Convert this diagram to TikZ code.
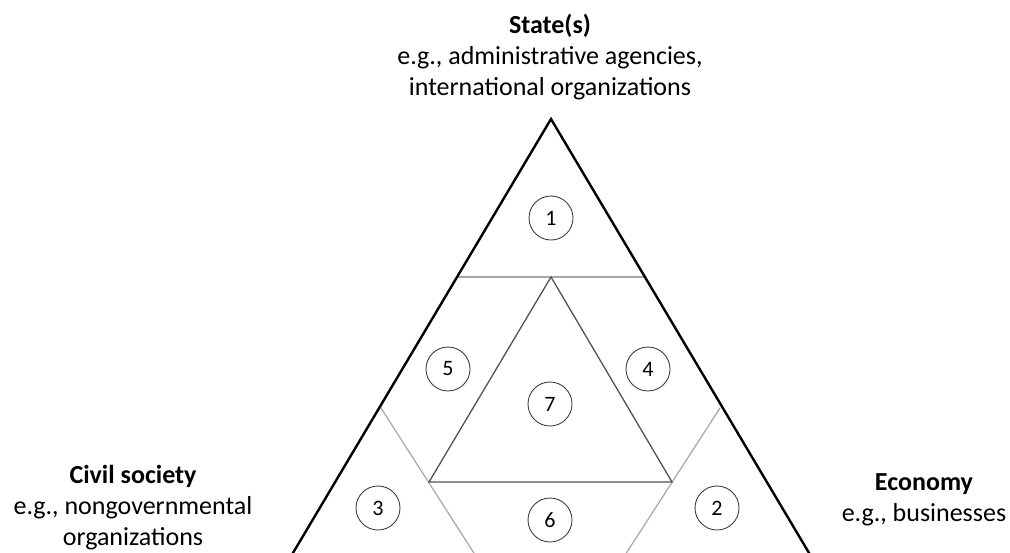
\documentclass[tikz,border=0pt]{standalone}
\usepackage{fontspec}
\setmainfont{Carlito}
\begin{document}
\begin{tikzpicture}[x=1pt,y=-1pt,
  outer/.style={line width=2.4pt, draw=black, line join=miter},
  inner/.style={line width=1.3pt, draw=black!68},
  divider/.style={line width=1.2pt, draw=black!35},
  num/.style={circle, draw=black!75, line width=0.9pt, minimum size=44pt, inner sep=0pt, font=\fontsize{22}{22}\selectfont},
  lbl/.style={align=center, font=\fontsize{26}{31}\selectfont}]
\useasboundingbox (0,0) rectangle (1010,552);
\clip (0,0) rectangle (1010,552);
% outer triangle corners
\coordinate (A) at (551,119);
\coordinate (BL) at (265,600);
\coordinate (BR) at (837,600);
% horizontal divider
\coordinate (HL) at (457,277);
\coordinate (HR) at (645,277);
% inner triangle
\coordinate (I) at (551,277);
\coordinate (IL) at (429,482);
\coordinate (IR) at (672,482);
% side dividers
\coordinate (L1) at (381,408);
\coordinate (Lb) at (504,600);
\coordinate (R1) at (720,408);
\coordinate (Rb) at (596,600);

\draw[divider] (HL) -- (HR);
\draw[divider] (L1) -- (Lb);
\draw[divider] (R1) -- (Rb);
\draw[inner] (I) -- (IL) -- (IR) -- cycle;
\draw[outer] (BL) -- (A) -- (BR);

\node[num] (n1) at (551,218) {1};
\node[num] (n2) at (717,508) {2};
\node[num] (n3) at (378,508) {3};
\node[num] (n4) at (648,369) {4};
\node[num] (n5) at (448,369) {5};
\node[num] (n6) at (550,520) {6};
\node[num] (n7) at (550,404) {7};

\node[lbl] (state) at (550,57) {\textbf{State(s)}\\e.g., administrative agencies,\\international organizations};
\node[lbl] (civil) at (133,508) {\textbf{Civil society}\\e.g., nongovernmental\\organizations};
\node[lbl] (economy) at (924,500) {\textbf{Economy}\\e.g., businesses};
\end{tikzpicture}
\end{document}
